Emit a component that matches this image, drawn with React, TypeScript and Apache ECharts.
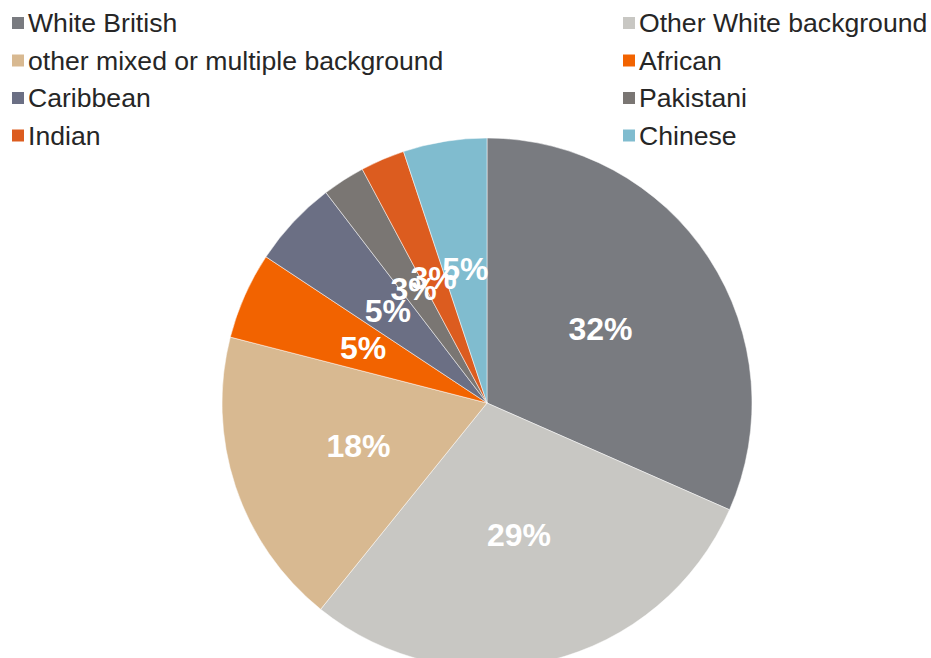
import React, { useEffect, useRef } from "react";
import * as echarts from "echarts";

const categories = [
  "White British",
  "Other White background",
  "other mixed or multiple background",
  "African",
  "Caribbean",
  "Pakistani",
  "Indian",
  "Chinese",
];
const values = [31.6, 29.2, 18.2, 5.3, 5.3, 2.6, 2.7, 5.1];
const colors = ["#797b80", "#c8c7c3", "#d8b991", "#f26300", "#6b6f84", "#7a7673", "#dc5c1f", "#80bccf"];
const leftLegend = ["White British", "other mixed or multiple background", "Caribbean", "Indian"];
const rightLegend = ["Other White background", "African", "Pakistani", "Chinese"];

export default function App() {
  const ref = useRef<HTMLDivElement>(null);
  useEffect(() => {
    document.body.style.margin = "0";
    const chart = echarts.init(ref.current!, null, { renderer: "svg" });
    const legendBase = {
      orient: "vertical" as const,
      top: 8,
      itemWidth: 14,
      itemHeight: 14,
      itemGap: 7.5,
      icon: "rect",
      selectedMode: false,
      textStyle: {
        fontFamily: "Liberation Sans",
        fontSize: 26.6,
        lineHeight: 30,
        color: "#262626",
        padding: [0, 0, 0, -2],
      },
      padding: 0,
    };
    chart.setOption({
      animation: false,
      color: colors,
      legend: [
        { ...legendBase, left: 10, data: leftLegend },
        { ...legendBase, left: 621, data: rightLegend },
      ],
      series: [
        {
          type: "pie",
          center: [487, 403],
          radius: [0, 265],
          startAngle: 90,
          clockwise: true,
          avoidLabelOverlap: false,
          labelLayout: { hideOverlap: false },
          itemStyle: { borderColor: "#ffffff", borderWidth: 0.5 },
          label: {
            show: true,
            position: "inside",
            color: "#ffffff",
            fontFamily: "Liberation Sans",
            fontSize: 32,
            fontWeight: "bold",
            formatter: (p: any) => Math.round(p.percent) + "%",
          },
          labelLine: { show: false },
          emphasis: { disabled: true },
          data: categories.map((name, i) => ({ name, value: values[i] })),
        },
      ],
    });
    return () => chart.dispose();
  }, []);
  return <div ref={ref} style={{ width: 931, height: 658 }} />;
}
